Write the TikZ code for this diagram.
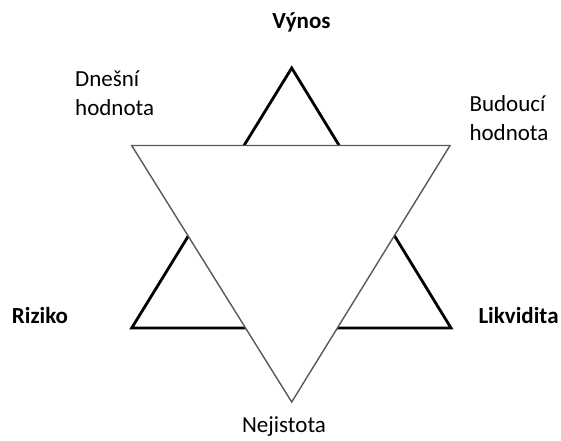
\documentclass[tikz,border=0pt]{standalone}
\usepackage{fontspec}
\setmainfont{Carlito}
\begin{document}
\begin{tikzpicture}[x=1pt,y=-1pt,
  lbl/.style={inner sep=0pt, text=black, font=\fontsize{23}{28.5}\selectfont},
  blbl/.style={lbl, font=\fontsize{23}{28.5}\selectfont\bfseries},
  thickedge/.style={draw=black, line width=2.8pt, line join=miter},
  thinedge/.style={draw=black!65, fill=white, line width=1.4pt, line join=miter}]
\useasboundingbox (0,0) rectangle (561,440);
% vertices
\coordinate (A) at (291.7,68);
\coordinate (B) at (131.7,328);
\coordinate (C) at (451,328);
\coordinate (D) at (131.7,145.5);
\coordinate (E) at (450,145.5);
\coordinate (F) at (291.7,402);
\draw[thickedge] (A) -- (B) -- (C) -- cycle;
\draw[thinedge] (D) -- (E) -- (F) -- cycle;
% labels
\node[blbl, anchor=base] (vynos) at (301.5,28.3) {Výnos};
\node[lbl, anchor=base west, align=left] (dnes) at (75,115) {Dnešní\\hodnota};
\node[lbl, anchor=base west, align=left] (bud) at (469.3,140) {Budoucí\\hodnota};
\node[blbl, anchor=base west] (riz) at (11.7,323.3) {Riziko};
\node[blbl, anchor=base west] (lik) at (478.3,323.3) {Likvidita};
\node[lbl, anchor=base] (nej) at (284,432.3) {Nejistota};
\end{tikzpicture}
\end{document}
